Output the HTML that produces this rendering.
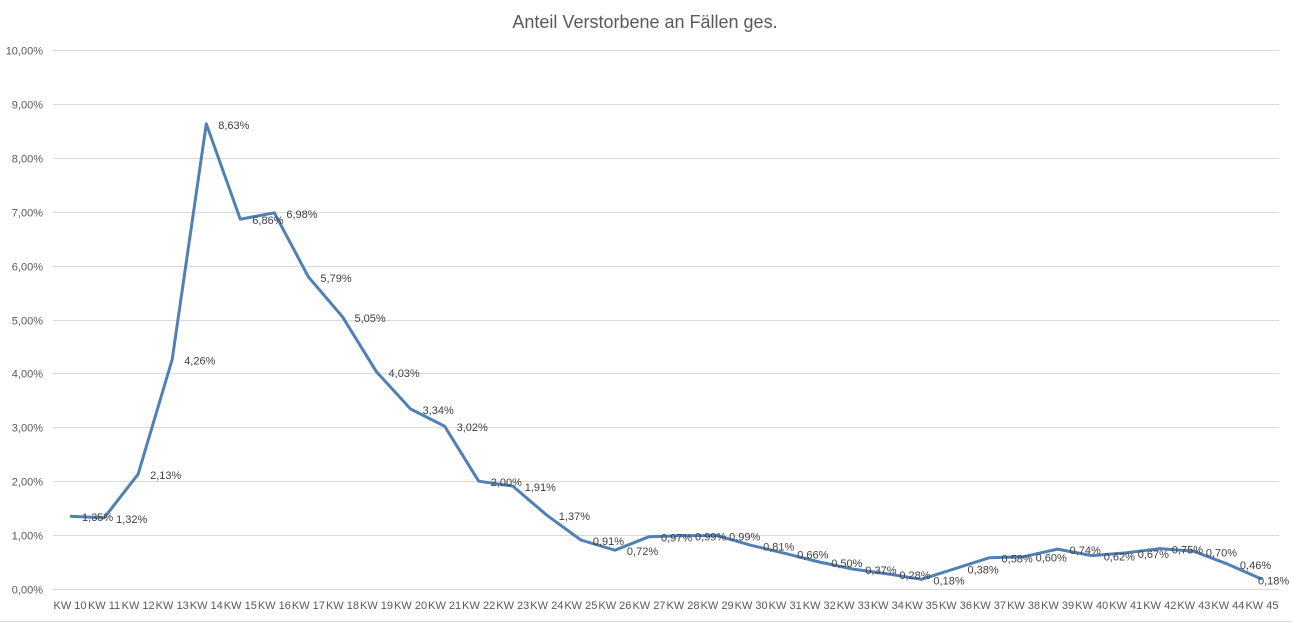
<!DOCTYPE html>
<html><head><meta charset="utf-8"><style>
html,body{margin:0;padding:0;background:#fff;}
svg{display:block;font-family:"Liberation Sans",Calibri,sans-serif;}
</style></head><body>
<svg id="c" width="1292" height="623" xmlns="http://www.w3.org/2000/svg">
<rect x="0" y="0" width="1292" height="623" fill="#fff"/>
<line x1="0" y1="621.5" x2="1292" y2="621.5" stroke="#d9d9d9"/>
<text x="645" y="28" font-size="18" fill="#595959" text-anchor="middle">Anteil Verstorbene an Fällen ges.</text>
</svg>
<script>
var s=document.getElementById('c'),NS='http://www.w3.org/2000/svg';
function el(t,a,txt){var e=document.createElementNS(NS,t);for(var k in a)e.setAttribute(k,a[k]);if(txt)e.textContent=txt;s.appendChild(e);return e;}
var x0=53,x1=1279,y0=589,py=53.9,n=36,cw=(x1-x0)/n;
for(var i=0;i<=10;i++){var y=Math.round(y0-i*py)+0.5;
el('line',{x1:x0,x2:x1,y1:y,y2:y,stroke:'#d9d9d9','stroke-width':1});
el('text',{x:43,y:y+4,'font-size':11,fill:'#595959','text-anchor':'end'},i+',00%');}
var d=[1.35,1.32,2.13,4.26,8.63,6.86,6.98,5.79,5.05,4.03,3.34,3.02,2.00,1.91,1.37,0.91,0.72,0.97,0.99,0.99,0.81,0.66,0.50,0.37,0.28,0.18,0.38,0.58,0.60,0.74,0.62,0.67,0.75,0.70,0.46,0.18];
var pts=[];
for(var i=0;i<n;i++){var x=x0+(i+0.5)*cw;pts.push(x.toFixed(1)+','+(y0-d[i]*py).toFixed(1));
el('text',{x:x,y:609,'font-size':11,fill:'#595959','text-anchor':'middle'},'KW '+(10+i));}
el('polyline',{points:pts.join(' '),fill:'none',stroke:'#5080b4','stroke-width':3,'stroke-linejoin':'round'});
for(var i=0;i<n;i++){var x=x0+(i+0.5)*cw,y=y0-d[i]*py;var lx=(i==n-1)?x-4:x+12;
el('text',{x:lx,y:y+5,'font-size':11,fill:'#404040'},d[i].toFixed(2).replace('.',',')+'%');}
</script>
</body></html>
